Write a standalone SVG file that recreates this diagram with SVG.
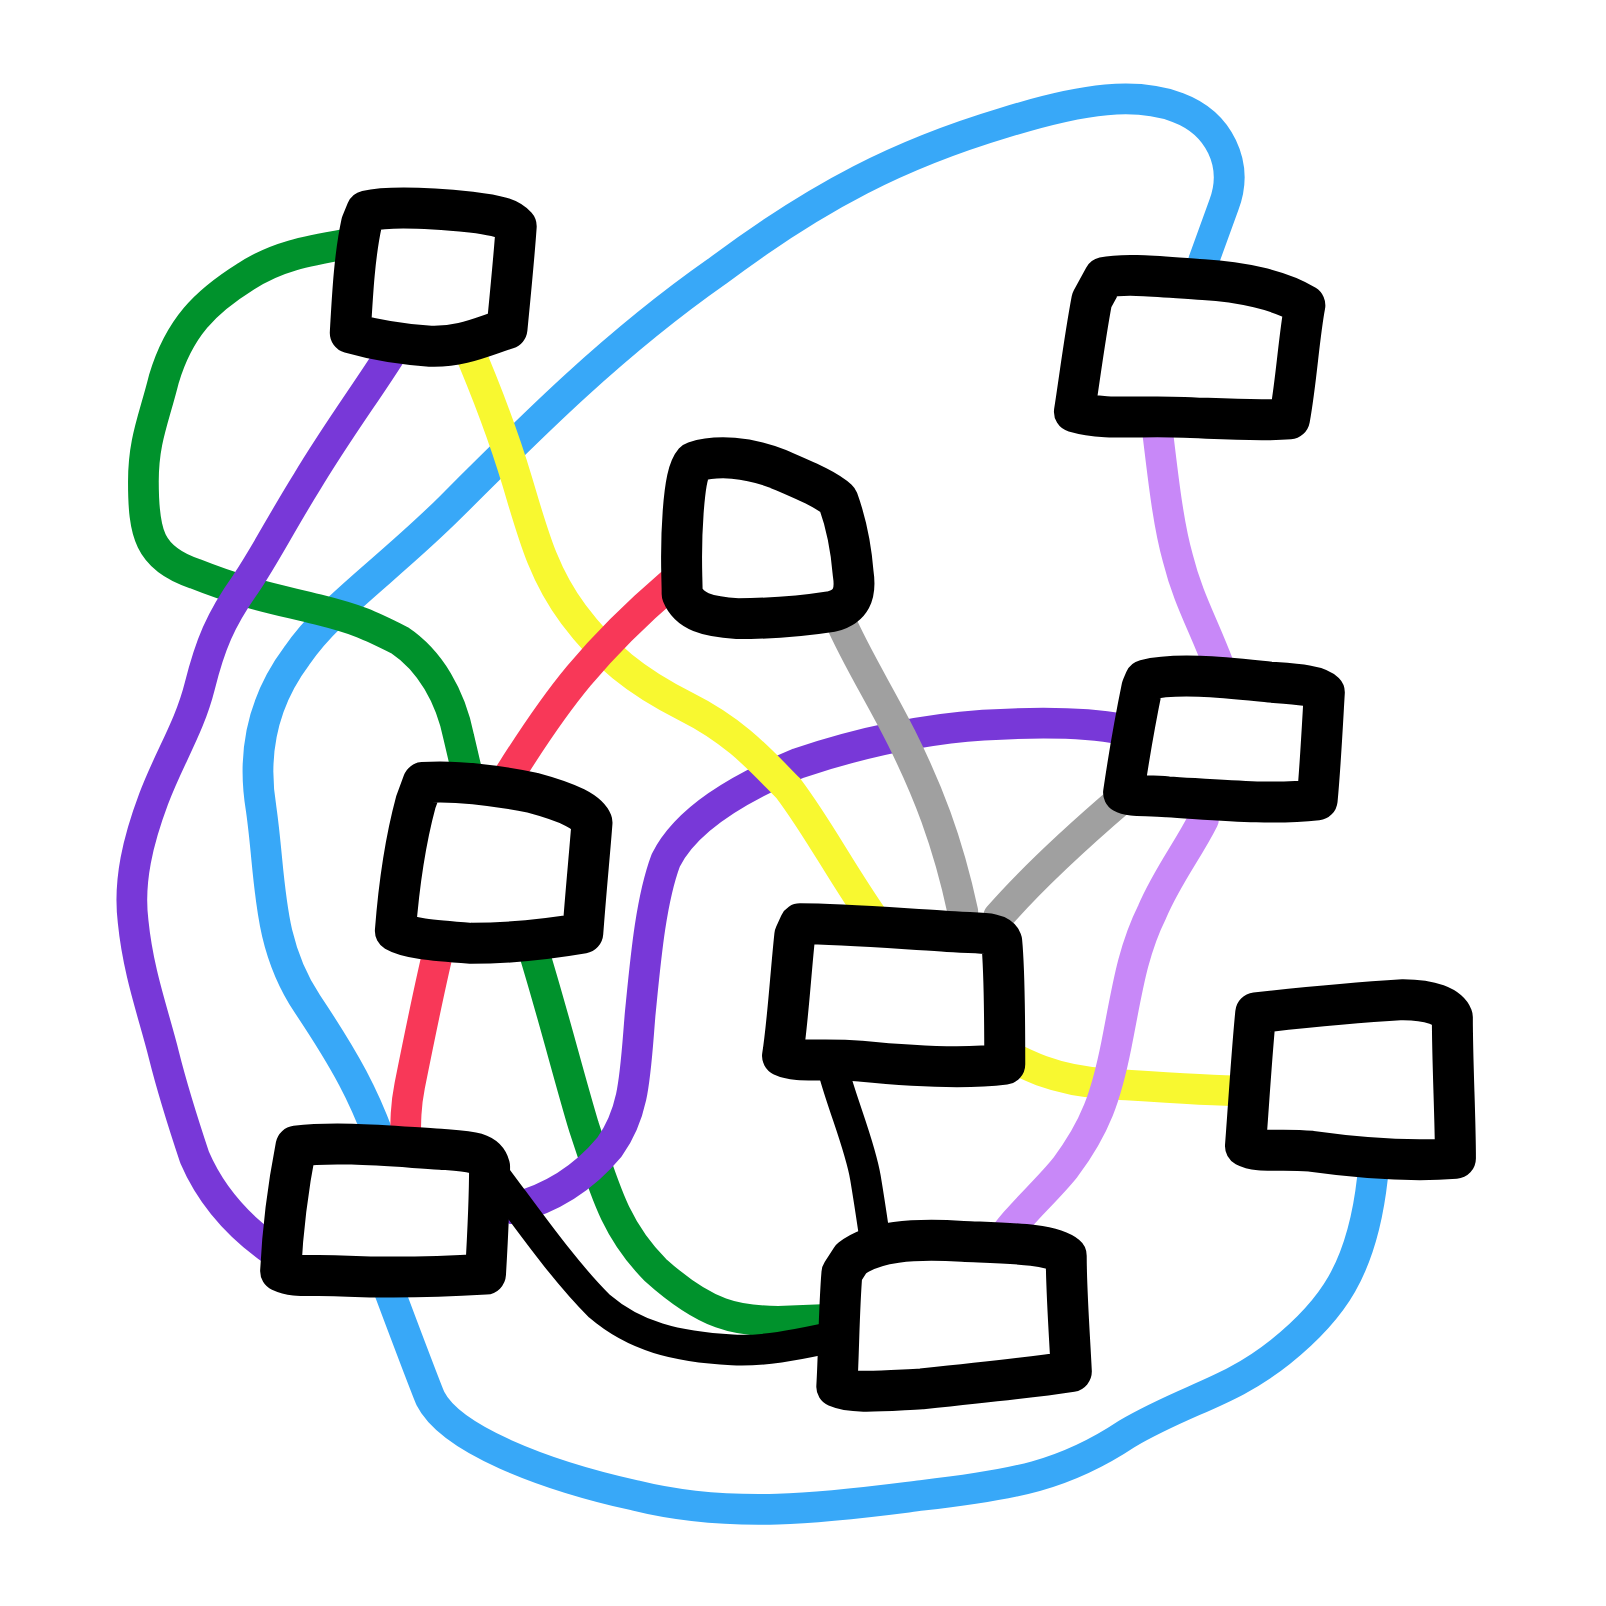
<svg xmlns="http://www.w3.org/2000/svg" width="1606" height="1606" viewBox="0 0 1606 1606">
<style>
.e{fill:none;stroke-width:30;stroke-linecap:round;stroke-linejoin:round}
.n{fill:#fff;stroke:#000;stroke-width:40;stroke-linejoin:round;stroke-linecap:round}
.blue{stroke:#38A8F8}.green{stroke:#00922C}.purple{stroke:#7838D8}.yellow{stroke:#F8F830}
.red{stroke:#F83858}.gray{stroke:#A0A0A0}.lilac{stroke:#C888F8}.black{stroke:#000}
</style>
<rect width="1606" height="1606" fill="#fff"/>
<g transform="scale(1.02423)">
<g id="connectors">
<path class="e blue" d="M1175,255 L1195,200 C1210,160 1190,120 1150,105 C1110,90 1060,95 980,120 C880,150 800,190 700,265 C600,335 520,415 440,495 C380,555 320,595 290,640 C260,680 245,730 255,790 C265,860 260,920 300,980 C340,1040 355,1070 370,1110"/>
<path class="e blue" d="M380,1260 C395,1300 410,1340 420,1365 C440,1405 530,1440 620,1460 C720,1485 820,1470 900,1460 C990,1450 1040,1440 1100,1400 C1160,1365 1200,1360 1250,1320 C1300,1280 1330,1240 1340,1150"/>
<path class="e green" d="M340,238 C300,245 270,250 240,270 C200,295 175,320 160,370 C150,410 140,430 140,470 C140,520 145,545 190,560 C240,580 270,585 310,595 C350,605 360,610 390,625 C420,645 440,680 448,720 L455,750"/>
<path class="e green" d="M520,925 C540,990 555,1050 570,1100 C590,1160 600,1200 640,1240 C690,1285 720,1290 760,1290 L815,1288"/>
<path class="e purple" d="M385,340 C360,380 330,420 300,470 C275,510 260,540 240,570 C215,605 205,630 195,670 C185,710 165,740 150,780 C135,820 125,860 130,900 C135,950 150,990 160,1030 C170,1070 180,1100 190,1130 C205,1165 230,1195 265,1220"/>
<path class="e purple" d="M500,1180 C540,1170 570,1150 595,1120 C620,1085 620,1050 625,990 C630,940 635,880 650,840 C670,800 720,770 780,745 C840,725 900,712 960,708 C1010,705 1060,705 1095,712"/>
<path class="e yellow" d="M455,335 C470,370 490,420 505,470 C520,520 530,560 560,600 C590,640 620,665 670,690 C720,715 745,745 770,770 C800,810 820,850 855,900"/>
<path class="e yellow" d="M965,1020 C1000,1040 1030,1055 1080,1058 C1140,1062 1180,1065 1215,1065"/>
<path class="e red" d="M655,570 C620,600 590,630 565,660 C540,690 520,720 495,760"/>
<path class="e red" d="M430,920 C420,960 410,1010 400,1060 C396,1080 396,1095 396,1115"/>
<path class="e gray" d="M820,605 C835,640 860,680 880,720 C905,770 925,820 940,890"/>
<path class="e gray" d="M1095,780 C1060,810 1010,855 975,895"/>
<path class="e lilac" d="M1130,420 C1135,460 1140,510 1150,545 C1160,585 1175,610 1190,650"/>
<path class="e lilac" d="M1175,800 C1160,830 1140,855 1125,890 C1105,930 1100,970 1090,1020 C1080,1070 1070,1100 1040,1140 C1020,1165 990,1190 975,1215"/>
<path class="e black" d="M815,1050 C825,1085 840,1120 845,1150 C850,1180 852,1195 855,1215"/>
<path class="e black" d="M485,1150 C515,1190 550,1240 585,1275 C620,1305 660,1315 715,1318 C750,1320 790,1310 815,1305"/>
</g>
<g id="node1"><path class="n" d="M358,206 C380,201 420,203 460,207 C485,210 497,213 504,221 C502,250 499,280 495,321 C470,329 450,339 420,338 C390,336 363,331 342,325 C344,290 346,250 353,218 Z"/></g>
<g id="node2"><path class="n" d="M1078,271 C1100,266 1140,271 1175,273 C1210,275 1250,283 1274,298 C1268,330 1266,370 1259,409 C1220,412 1170,407 1130,407 C1100,407 1073,409 1049,402 C1054,370 1059,330 1066,293 Z"/></g>
<g id="node3"><path class="n" d="M678,451 C700,444 730,446 760,458 C790,471 807,478 818,488 C826,510 831,535 833,560 C836,580 831,592 812,597 C780,602 750,604 720,604 C690,602 673,597 666,580 C666,560 664,540 667,500 C669,473 672,458 678,451 Z"/></g>
<g id="node4"><path class="n" d="M413,764 C440,762 480,766 520,774 C557,784 574,793 578,803 C576,830 572,870 569,911 C540,916 500,921 460,921 C420,918 398,916 386,909 C389,870 396,820 406,783 Z"/></g>
<g id="node5"><path class="n" d="M1118,664 C1150,656 1200,662 1240,666 C1267,668 1286,669 1293,676 C1291,710 1289,750 1286,781 C1240,786 1190,781 1140,778 C1120,776 1104,778 1097,774 C1102,740 1109,700 1115,671 Z"/></g>
<g id="node6"><path class="n" d="M781,902 C820,902 870,906 920,909 C957,912 974,909 978,919 C981,950 981,1000 981,1039 C940,1044 890,1041 840,1036 C800,1033 779,1038 764,1031 C769,1000 772,950 776,913 Z"/></g>
<g id="node7"><path class="n" d="M1226,989 C1270,984 1320,979 1370,976 C1397,976 1414,983 1418,993 C1418,1040 1421,1090 1421,1131 C1380,1134 1330,1131 1280,1124 C1250,1121 1229,1126 1216,1119 C1219,1080 1222,1030 1226,989 Z"/></g>
<g id="node8"><path class="n" d="M289,1119 C330,1114 380,1119 430,1122 C457,1124 474,1124 478,1139 C478,1170 476,1210 474,1244 C440,1246 390,1248 340,1246 C300,1244 289,1248 274,1241 C276,1200 282,1155 289,1119 Z"/></g>
<g id="node9"><path class="n" d="M831,1229 C853,1212 890,1209 940,1212 C987,1214 1026,1214 1041,1226 C1041,1260 1044,1300 1046,1339 C1000,1346 950,1351 900,1356 C860,1358 833,1361 817,1354 C819,1320 819,1280 822,1243 Z"/></g>
</g>
</svg>
